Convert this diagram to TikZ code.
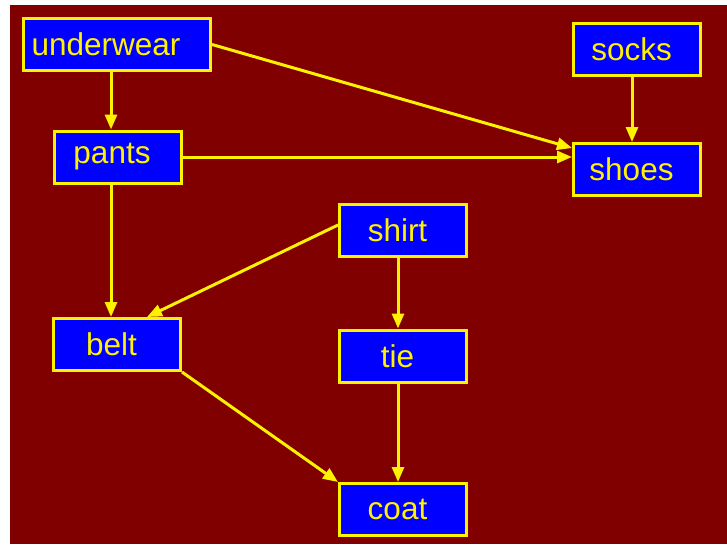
\documentclass[tikz,border=0pt]{standalone}
\usepackage{fontspec}
\setmainfont{Liberation Sans}
\usetikzlibrary{arrows.meta}
\definecolor{bgred}{HTML}{800000}

\begin{document}
\begin{tikzpicture}[x=1pt,y=-1pt,
  every node/.style={font=\fontsize{31.5}{36}\selectfont},
  item/.style={draw=yellow,fill=blue,text=yellow,line width=3pt,minimum width=127pt,minimum height=52pt,inner sep=0pt,execute at end node=\kern11pt},
  wide/.style={item,minimum width=187pt,execute at end node=\kern11pt},
  edge/.style={draw=yellow,line width=3pt,-{Triangle[length=15pt,width=12pt]}}]
\useasboundingbox (0,0) rectangle (727,544);
\fill[bgred] (10,5) rectangle (727,544);
\node[wide] (underwear) at (117,44.5) {underwear};
\node[item] (pants) at (117.5,157) {pants};
\node[item] (belt) at (117,344.5) {belt};
\node[item] (socks) at (637,49.5) {socks};
\node[item] (shoes) at (637,169.5) {shoes};
\node[item] (shirt) at (403,230) {shirt};
\node[item] (tie) at (403,356) {tie};
\node[item] (coat) at (403,509.5) {coat};
\draw[edge] ([xshift=-6pt]underwear.south) -- ([xshift=-6.5pt]pants.north);
\draw[edge] (underwear.east) -- ([yshift=-6pt]shoes.north west);
\draw[edge] (pants.east) -- (pants.east -| shoes.west);
\draw[edge] ([xshift=-5pt]socks.south) -- ([xshift=-5pt]shoes.north);
\draw[edge] ([xshift=-6.5pt]pants.south) -- ([xshift=-6pt]belt.north);
\draw[edge] ([yshift=5pt]shirt.west) -- ([xshift=30pt]belt.north);
\draw[edge] ([xshift=-5pt]shirt.south) -- ([xshift=-5pt]tie.north);
\draw[edge] ([xshift=-5pt]tie.south) -- ([xshift=-5pt]coat.north);
\draw[edge] (belt.south east) -- (coat.north west);
\end{tikzpicture}
\end{document}
